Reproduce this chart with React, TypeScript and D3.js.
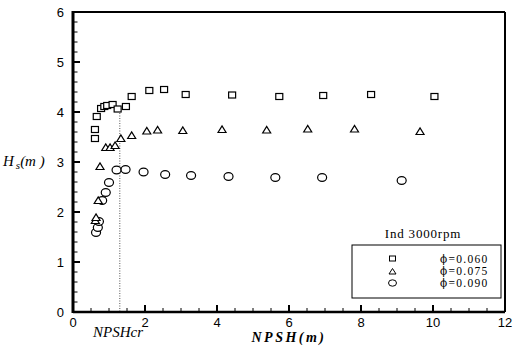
import React from "react";
import * as d3 from "d3";

const sqX = [0.61, 0.61, 0.66, 0.78, 0.87, 0.95, 1.10, 1.24, 1.47, 1.63, 2.12, 2.53, 3.13, 4.42, 5.73, 6.95, 8.28, 10.04];
const sqY = [3.47, 3.65, 3.91, 4.07, 4.11, 4.13, 4.15, 4.06, 4.11, 4.31, 4.43, 4.45, 4.35, 4.34, 4.31, 4.33, 4.35, 4.31];

const triX = [0.62, 0.64, 0.70, 0.75, 0.91, 1.03, 1.17, 1.33, 1.63, 2.05, 2.35, 3.05, 4.14, 5.38, 6.52, 7.82, 9.64];
const triY = [1.83, 1.89, 2.23, 2.91, 3.29, 3.29, 3.33, 3.47, 3.53, 3.62, 3.64, 3.63, 3.65, 3.64, 3.66, 3.66, 3.61];

const cirX = [0.64, 0.69, 0.72, 0.81, 0.91, 1.0, 1.21, 1.46, 1.96, 2.56, 3.28, 4.32, 5.62, 6.92, 9.13];
const cirY = [1.59, 1.69, 1.81, 2.23, 2.39, 2.59, 2.84, 2.85, 2.80, 2.75, 2.73, 2.71, 2.69, 2.69, 2.63];

const xTicks = [0, 2, 4, 6, 8, 10, 12];
const yTicks = [0, 1, 2, 3, 4, 5, 6];
const npshCr = 1.3;
const npshCrTop = 4.03;
const legendTitle = "Ind 3000rpm";
const legendPhi = "ϕ";
const legendValues = ["=0.060", "=0.075", "=0.090"];

const W = 513, H = 347;
const L = 73, R = 505, T = 12, B = 312;

function Square({ cx, cy }: { cx: number; cy: number }) {
  return <rect x={cx - 3.5} y={cy - 3} width={7} height={6} fill="white" stroke="black" strokeWidth={1.2} />;
}
function Tri({ cx, cy }: { cx: number; cy: number }) {
  return <path d={`M${cx - 4},${cy + 3} L${cx + 4},${cy + 3} L${cx},${cy - 3.5} Z`} fill="white" stroke="black" strokeWidth={1.2} />;
}
function Circ({ cx, cy }: { cx: number; cy: number }) {
  return <ellipse cx={cx} cy={cy} rx={4.5} ry={3.8} fill="white" stroke="black" strokeWidth={1.2} />;
}

export default function App() {
  const x = d3.scaleLinear().domain([0, 12]).range([L, R]);
  const y = d3.scaleLinear().domain([0, 6]).range([B, T]);
  const xMinor = d3.range(0, 12.001, 0.5).filter((v) => Math.abs(v / 2 - Math.round(v / 2)) > 1e-6);
  const yMinor = d3.range(0, 6.001, 0.2).filter((v) => Math.abs(v - Math.round(v)) > 1e-6);
  const serif = "'Liberation Serif', 'DejaVu Serif', serif";
  const sans = "'Liberation Sans', Arial, sans-serif";

  return (
    <svg width={W} height={H} style={{ position: "absolute", left: 0, top: 0, background: "white" }}>
      <rect width={W} height={H} fill="white" />
      {/* NPSHcr dotted line */}
      <line x1={x(npshCr)} x2={x(npshCr)} y1={y(npshCrTop)} y2={B} stroke="#555" strokeWidth={1} strokeDasharray="1,1.5" />

      {/* ticks */}
      {yTicks.map((v) => (
        <line key={"ym" + v} x1={L} x2={L + 7} y1={y(v)} y2={y(v)} stroke="black" strokeWidth={2} />
      ))}
      {yMinor.map((v, i) => (
        <line key={"yn" + i} x1={L} x2={L + 4.5} y1={y(v)} y2={y(v)} stroke="black" strokeWidth={1} />
      ))}
      {xTicks.map((v) => (
        <line key={"xm" + v} x1={x(v)} x2={x(v)} y1={B} y2={B - 7} stroke="black" strokeWidth={2} />
      ))}
      {xMinor.map((v, i) => (
        <line key={"xn" + i} x1={x(v)} x2={x(v)} y1={B} y2={B - 4} stroke="black" strokeWidth={1} />
      ))}

      {/* frame */}
      <line x1={L} x2={R} y1={T} y2={T} stroke="black" strokeWidth={2} />
      <line x1={R} x2={R} y1={T} y2={B} stroke="black" strokeWidth={2} />
      <line x1={L} x2={R} y1={B} y2={B} stroke="black" strokeWidth={2.5} />
      <line x1={L} x2={L} y1={T - 1} y2={B + 1} stroke="black" strokeWidth={3} />

      {/* tick labels */}
      {xTicks.map((v) => (
        <text key={"xl" + v} x={x(v)} y={B + 15} textAnchor="middle" fontFamily={sans} fontSize={13}>{v}</text>
      ))}
      {yTicks.map((v) => (
        <text key={"yl" + v} x={L - 9} y={y(v) + 5} textAnchor="end" fontFamily={sans} fontSize={13}>{v}</text>
      ))}

      {/* axis titles */}
      <text x={289} y={342} textAnchor="middle" fontFamily={serif} fontStyle="italic" fontWeight="bold" fontSize={14} letterSpacing={2.5}>NPSH(m)</text>
      <text x={93} y={337} fontFamily={serif} fontStyle="italic" fontSize={15}>NPSHcr</text>
      <text x={3} y={166} fontFamily={serif} fontStyle="italic" fontSize={15}>
        H<tspan fontSize={11} dx={2} dy={3}>s</tspan><tspan dy={-3}>(m )</tspan>
      </text>

      {/* data */}
      {cirX.map((v, i) => <Circ key={"c" + i} cx={x(v)} cy={y(cirY[i])} />)}
      {triX.map((v, i) => <Tri key={"t" + i} cx={x(v)} cy={y(triY[i])} />)}
      {sqX.map((v, i) => <Square key={"s" + i} cx={x(v)} cy={y(sqY[i])} />)}

      {/* legend */}
      <text x={423} y={238} textAnchor="middle" fontFamily={serif} fontSize={13} letterSpacing={0.8}>{legendTitle}</text>
      <rect x={352} y={245} width={149} height={53} fill="white" stroke="black" strokeWidth={1} />
      <rect x={389.5} y={256} width={6} height={5} fill="white" stroke="black" strokeWidth={1} />
      <path d="M389,274 L396,274 L392.5,268.5 Z" fill="white" stroke="black" strokeWidth={1} />
      <ellipse cx={392.5} cy={283} rx={4} ry={3.2} fill="white" stroke="black" strokeWidth={1} />
      {legendValues.map((s, i) => (
        <text key={"lg" + i} x={440} y={263 + i * 12} fontFamily={serif} fontSize={11.5} letterSpacing={1.3} fill="black">
          <tspan fontFamily="'DejaVu Serif', serif" fontSize={10.5}>{legendPhi}</tspan>{s}
        </text>
      ))}
    </svg>
  );
}
